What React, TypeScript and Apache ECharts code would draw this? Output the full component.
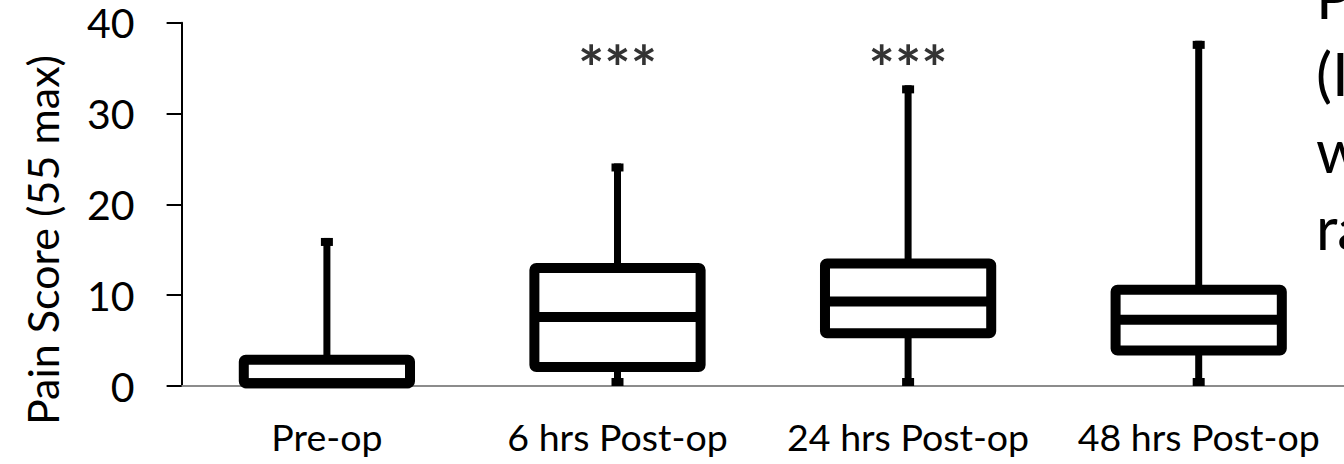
import React, { useEffect, useRef } from "react";
import * as echarts from "echarts";

// ---- data ----
const categories = ["Pre-op", "6 hrs Post-op", "24 hrs Post-op", "48 hrs Post-op"];
const whiskerMin = [0, 0, 0, 0];
const q1 = [0.3, 2.1, 5.8, 3.9];
const median = [0.3, 7.6, 9.3, 7.3];
const q3 = [2.9, 13.0, 13.5, 10.6];
const whiskerMax = [16.3, 24.5, 33.1, 38.0];
const significance = ["", "***", "***", ""];
const significanceLevel = 35.1;
const yMin = 0;
const yMax = 40;
const yStep = 10;
const yAxisTitle = "Pain Score (55 max)";
const sideNoteLines = ["P", "(I", "w", "ra"];

const FONT = "Lato, 'Open Sans', sans-serif";

export default function App() {
  const ref = useRef<HTMLDivElement>(null);

  useEffect(() => {
    if (!ref.current) return;
    const chart = echarts.init(ref.current, undefined, { renderer: "svg" });

    const boxData = categories.map((_, i) => [
      i,
      whiskerMin[i],
      q1[i],
      median[i],
      q3[i],
      whiskerMax[i],
    ]);

    const sigData = categories
      .map((_, i) => ({ value: [i, significanceLevel], label: significance[i] }))
      .filter((d) => d.label !== "");

    const option: any = {
      animation: false,
      backgroundColor: "#ffffff",
      grid: { left: 181.6, top: 22.7, bottom: 78, right: -14.4, containLabel: false },
      xAxis: {
        type: "category",
        data: categories,
        boundaryGap: true,
        axisLine: { show: true, lineStyle: { color: "#8c8c8c", width: 2 } },
        axisTick: { show: false },
        axisLabel: {
          interval: 0,
          color: "#000",
          fontSize: 37.5,
          fontFamily: FONT,
          margin: 31,
        },
        splitLine: { show: false },
      },
      yAxis: {
        type: "value",
        min: yMin,
        max: yMax,
        interval: yStep,
        axisLine: { show: true, lineStyle: { color: "#000", width: 2 } },
        axisTick: { show: true, inside: false, length: 15, lineStyle: { color: "#000", width: 2 } },
        axisLabel: { color: "#000", fontSize: 41, fontFamily: FONT, margin: 47 },
        splitLine: { show: false },
      },
      series: [
        {
          type: "custom",
          data: boxData,
          encode: { x: 0, y: [1, 2, 3, 4, 5] },
          clip: false,
          renderItem: (params: any, api: any) => {
            const idx = api.value(0);
            const x = api.coord([idx, 0])[0];
            const yLo = api.coord([idx, api.value(1)])[1];
            const yQ1 = api.coord([idx, api.value(2)])[1];
            const yMed = api.coord([idx, api.value(3)])[1];
            const yQ3 = api.coord([idx, api.value(4)])[1];
            const yHi = api.coord([idx, api.value(5)])[1];
            const band = api.size([1, 0])[0];
            const boxW = band * 0.572;
            const capW = 12;
            const capH = 8;
            const black = "#000";
            return {
              type: "group",
              children: [
                { type: "line", shape: { x1: x, y1: yQ3, x2: x, y2: yHi }, style: { stroke: black, lineWidth: 7 } },
                { type: "line", shape: { x1: x, y1: yQ1, x2: x, y2: yLo }, style: { stroke: black, lineWidth: 7 } },
                { type: "rect", shape: { x: x - capW / 2, y: yHi, width: capW, height: capH }, style: { fill: black } },
                { type: "rect", shape: { x: x - capW / 2, y: yLo - capH, width: capW, height: capH }, style: { fill: black } },
                {
                  type: "rect",
                  shape: { x: x - boxW / 2, y: yQ3, width: boxW, height: yQ1 - yQ3, r: 2 },
                  style: { fill: "#fff", stroke: black, lineWidth: 10, lineJoin: "round" },
                },
                {
                  type: "line",
                  shape: { x1: x - boxW / 2, y1: yMed, x2: x + boxW / 2, y2: yMed },
                  style: { stroke: black, lineWidth: 10 },
                },
              ],
            };
          },
          z: 3,
        },
        {
          type: "scatter",
          data: sigData,
          symbolSize: 0,
          silent: true,
          label: {
            show: true,
            position: "inside",
            formatter: (p: any) => p.data.label,
            color: "#000",
            fontSize: 62,
            fontWeight: "bold",
            fontFamily: FONT,
          },
          z: 4,
        },
      ],
      graphic: [
        {
          type: "text",
          x: 42,
          y: 240,
          rotation: Math.PI / 2,
          style: {
            text: yAxisTitle,
            font: `43px ${FONT}`,
            fill: "#000",
            align: "center",
            verticalAlign: "middle",
          },
        },
        {
          type: "text",
          x: 1316,
          y: -43,
          style: {
            text: sideNoteLines.join("\n"),
            font: `60px ${FONT}`,
            lineHeight: 77,
            fill: "#000",
            align: "left",
            verticalAlign: "top",
          },
        },
      ],
    };

    chart.setOption(option);
    return () => chart.dispose();
  }, []);

  return (
    <div
      ref={ref}
      style={{ position: "absolute", left: 0, top: 0, width: 1344, height: 464, background: "#fff" }}
    />
  );
}
